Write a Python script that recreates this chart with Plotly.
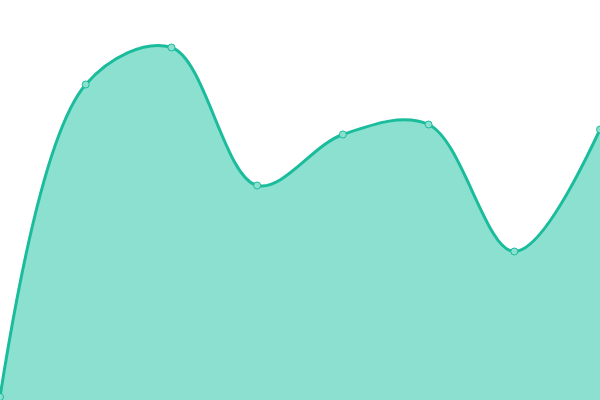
import plotly.graph_objects as go

# data (height above bottom edge, px-like units)
labels = ["p1", "p2", "p3", "p4", "p5", "p6", "p7", "p8"]
values = [3, 315.5, 352.5, 214.5, 265.5, 275.5, 148.5, 270.5]

line_color = "#1abc9c"
fill_color = "#8be0cf"

fig = go.Figure()
fig.add_trace(go.Scatter(
    x=list(range(len(labels))),
    y=values,
    mode="lines+markers",
    line=dict(color=line_color, width=3, shape="spline", smoothing=1),
    marker=dict(size=7, color=fill_color, line=dict(color=line_color, width=1)),
    fill="tozeroy",
    fillcolor=fill_color,
    cliponaxis=False,
    hoverinfo="skip",
))

fig.update_layout(
    width=600,
    height=400,
    margin=dict(l=0, r=0, t=0, b=0),
    paper_bgcolor="white",
    plot_bgcolor="white",
    showlegend=False,
    xaxis=dict(range=[0, len(labels) - 1], visible=False, fixedrange=True),
    yaxis=dict(range=[0, 400], visible=False, fixedrange=True),
)

# drop the default page margin so the chart fills the window
fig.write_html(
    "out.html",
    config={"displayModeBar": False},
    post_script="document.body.style.margin='0';document.body.style.overflow='hidden';",
)
